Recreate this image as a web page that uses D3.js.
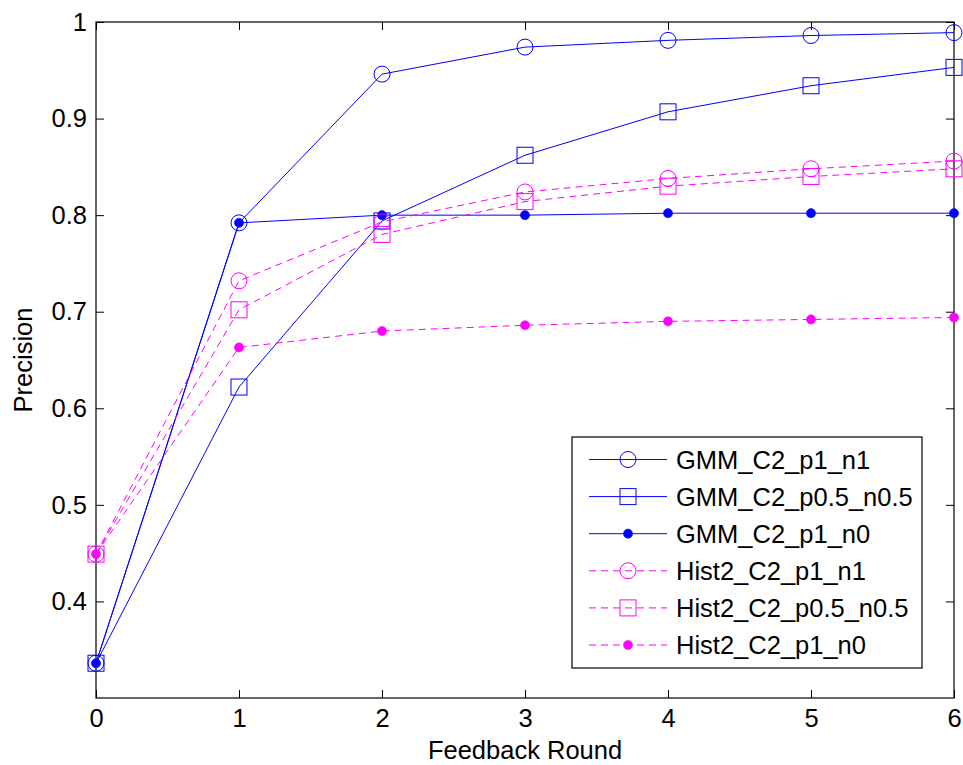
<!DOCTYPE html>
<html>
<head>
<meta charset="utf-8">
<script src="https://cdn.jsdelivr.net/npm/d3@7"></script>
<style>
  html, body { margin: 0; padding: 0; background: #fff; }
  svg { display: block; }
  text { font-family: "Liberation Sans", Arial, Helvetica, sans-serif; }
</style>
</head>
<body>
<div id="chart"></div>
<script>
const rounds = [0, 1, 2, 3, 4, 5, 6];
const xTicks = [0, 1, 2, 3, 4, 5, 6];
const yTicks = [0.4, 0.5, 0.6, 0.7, 0.8, 0.9, 1];
const seriesNames = ["GMM_C2_p1_n1", "GMM_C2_p0.5_n0.5", "GMM_C2_p1_n0",
                     "Hist2_C2_p1_n1", "Hist2_C2_p0.5_n0.5", "Hist2_C2_p1_n0"];
const gmm_p1_n1     = [0.336, 0.792, 0.946, 0.974, 0.981, 0.986, 0.989];
const gmm_p05_n05   = [0.336, 0.622, 0.794, 0.862, 0.907, 0.934, 0.953];
const gmm_p1_n0     = [0.336, 0.792, 0.800, 0.800, 0.802, 0.802, 0.802];
const hist_p1_n1    = [0.449, 0.732, 0.793, 0.824, 0.838, 0.848, 0.856];
const hist_p05_n05  = [0.449, 0.702, 0.780, 0.814, 0.830, 0.840, 0.848];
const hist_p1_n0    = [0.449, 0.663, 0.680, 0.686, 0.690, 0.692, 0.694];

const seriesValues = [gmm_p1_n1, gmm_p05_n05, gmm_p1_n0, hist_p1_n1, hist_p05_n05, hist_p1_n0];
const markers = ["circle", "square", "dot", "circle", "square", "dot"];
const colors = ["#0000ff", "#0000ff", "#0000ff", "#ff00ff", "#ff00ff", "#ff00ff"];
const dashed = [false, false, false, true, true, true];

(function () {
const W = 963, H = 765;
const pL = 96, pR = 954, pT = 22, pB = 698;

const svg = d3.select("#chart").append("svg").attr("width", W).attr("height", H);

const x = d3.scaleLinear().domain([0, 6]).range([pL, pR]);
const y = d3.scaleLinear().domain([0.3, 1]).range([pB, pT]);

const fs = 25.5;
const tickLen = 8;

svg.append("rect").attr("x", pL).attr("y", pT)
  .attr("width", pR - pL).attr("height", pB - pT)
  .attr("fill", "none").attr("stroke", "#000").attr("stroke-width", 1.2);

const xAxisB = d3.axisBottom(x).tickValues(xTicks).tickSize(-tickLen).tickPadding(11).tickFormat(d3.format("d"));
const xAxisT = d3.axisTop(x).tickValues(xTicks).tickSize(-tickLen).tickFormat("");
const yAxisL = d3.axisLeft(y).tickValues(yTicks).tickSize(-tickLen).tickPadding(9).tickFormat(d => d === 1 ? "1" : d3.format(".1f")(d));
const yAxisR = d3.axisRight(y).tickValues(yTicks).tickSize(-tickLen).tickFormat("");

function styleAxis(g) {
  g.select(".domain").remove();
  g.selectAll(".tick line").attr("stroke", "#000").attr("stroke-width", 1);
  g.selectAll(".tick text").attr("fill", "#000").style("font-size", fs + "px")
    .style("font-family", '"Liberation Sans", Arial, sans-serif');
}
svg.append("g").attr("transform", `translate(0,${pB})`).call(xAxisB).call(styleAxis);
svg.append("g").attr("transform", `translate(0,${pT})`).call(xAxisT).call(styleAxis);
svg.append("g").attr("transform", `translate(${pL},0)`).call(yAxisL).call(styleAxis);
svg.append("g").attr("transform", `translate(${pR},0)`).call(yAxisR).call(styleAxis);

svg.append("text").attr("x", (pL + pR) / 2).attr("y", 759)
  .attr("text-anchor", "middle").style("font-size", fs + "px").text("Feedback Round");
svg.append("text").attr("transform", `translate(32,${(pT + pB) / 2}) rotate(-90)`)
  .attr("text-anchor", "middle").style("font-size", fs + "px").text("Precision");

function drawMarker(g, type, cx, cy, color) {
  if (type === "circle") {
    g.append("circle").attr("cx", cx).attr("cy", cy).attr("r", 8)
      .attr("fill", "none").attr("stroke", color).attr("stroke-width", 1);
  } else if (type === "square") {
    g.append("rect").attr("x", cx - 8).attr("y", cy - 8).attr("width", 16).attr("height", 16)
      .attr("fill", "none").attr("stroke", color).attr("stroke-width", 1);
  } else {
    g.append("circle").attr("cx", cx).attr("cy", cy).attr("r", 4.6)
      .attr("fill", color).attr("stroke", color).attr("stroke-width", 0.5);
  }
}

const line = d3.line().x((d, i) => x(rounds[i])).y(d => y(d));

seriesValues.forEach((vals, si) => {
  const g = svg.append("g");
  g.append("path").attr("d", line(vals)).attr("fill", "none")
    .attr("stroke", colors[si]).attr("stroke-width", 1)
    .attr("stroke-dasharray", dashed[si] ? "7,5" : null);
  vals.forEach((v, i) => drawMarker(g, markers[si], x(rounds[i]), y(v), colors[si]));
});

const lg = svg.append("g");
const lx0 = 572, ly0 = 437, lw = 350, lh = 231;
lg.append("rect").attr("x", lx0).attr("y", ly0).attr("width", lw).attr("height", lh)
  .attr("fill", "#fff").attr("stroke", "#000").attr("stroke-width", 1.2);
const rowY = d3.scaleLinear().domain([0, 5]).range([459.5, 645]);
seriesNames.forEach((name, i) => {
  const yy = rowY(i);
  lg.append("line").attr("x1", 589).attr("x2", 667).attr("y1", yy).attr("y2", yy)
    .attr("stroke", colors[i]).attr("stroke-width", 1)
    .attr("stroke-dasharray", dashed[i] ? "7,5" : null);
  drawMarker(lg, markers[i], 628, yy, colors[i]);
  lg.append("text").attr("x", 676).attr("y", yy).attr("dy", "0.36em")
    .style("font-size", fs + "px").attr("fill", "#000").text(name);
});
})();
</script>
</body>
</html>
